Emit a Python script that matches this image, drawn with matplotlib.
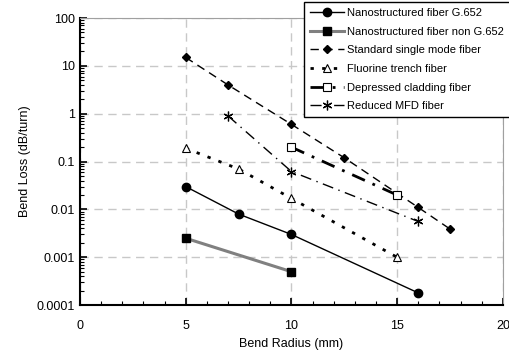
import matplotlib
matplotlib.use("Agg")
import matplotlib.pyplot as plt
from matplotlib.ticker import MultipleLocator, LogLocator, NullFormatter, FixedLocator

plt.rcParams['font.family'] = ['Liberation Sans', 'DejaVu Sans']

# data
g652_x = [5, 7.5, 10, 16]
g652_y = [0.03, 0.008, 0.003, 0.00018]
nong652_x = [5, 10]
nong652_y = [0.0025, 0.0005]
ssmf_x = [5, 7, 10, 12.5, 16, 17.5]
ssmf_y = [15, 4.0, 0.6, 0.12, 0.011, 0.0039]
fluor_x = [5, 7.5, 10, 15]
fluor_y = [0.19, 0.07, 0.017, 0.001]
depr_x = [10, 15]
depr_y = [0.2, 0.02]
mfd_x = [7, 10, 16]
mfd_y = [0.9, 0.062, 0.0056]
ytick_vals = [0.0001, 0.001, 0.01, 0.1, 1, 10, 100]
ytick_labels = ["0.0001", "0.001", "0.01", "0.1", "1", "10", "100"]

fig = plt.figure(figsize=(5.1, 3.54), dpi=100)
ax = fig.add_axes([0.157, 0.138, 0.829, 0.811])

ax.plot(g652_x, g652_y, color='black', lw=1, marker='o', ms=6, label='Nanostructured fiber G.652')
ax.plot(nong652_x, nong652_y, color='#808080', lw=2.2, marker='s', ms=6, mfc='black', mec='black',
        label='Nanostructured fiber non G.652')
ax.plot(ssmf_x, ssmf_y, color='black', lw=1, ls=(0, (6, 4)), marker='D', ms=4.5, label='Standard single mode fiber')
ax.plot(fluor_x, fluor_y, color='black', lw=2, ls=(0, (1.2, 3)), marker='^', ms=5.5, mfc='white', mec='black', mew=0.8,
        label='Fluorine trench fiber')
ax.plot(depr_x, depr_y, color='black', lw=2, ls=(0, (5, 3, 1, 3)), marker='s', ms=5.5, mfc='white', mec='black', mew=0.8,
        label='Depressed cladding fiber')
ax.plot(mfd_x, mfd_y, color='black', lw=1, ls=(0, (8, 4, 1, 4)), marker=(6, 2, 0), ms=7, mew=0.9,
        label='Reduced MFD fiber')

ax.set_yscale('log')
ax.set_xlim(0, 20)
ax.set_ylim(0.0001, 100)
ax.xaxis.set_major_locator(MultipleLocator(5))
ax.xaxis.set_minor_locator(MultipleLocator(1))
ax.yaxis.set_major_locator(FixedLocator(ytick_vals))
ax.set_yticklabels(ytick_labels)
ax.yaxis.set_minor_locator(LogLocator(base=10, subs=range(2, 10), numticks=20))
ax.yaxis.set_minor_formatter(NullFormatter())
ax.tick_params(which='both', direction='in', labelsize=9, colors='black')
ax.tick_params(which='major', length=5, width=1.2)
ax.tick_params(which='minor', length=3, width=0.8)
ax.tick_params(axis='x', pad=11)
ax.grid(True, which='major', color='#c8c8c8', ls=(0, (6, 4)), lw=1)

for s in ['top', 'right']:
    ax.spines[s].set_color('#a0a0a0')
for s in ['left', 'bottom']:
    ax.spines[s].set_linewidth(1.5)

ax.set_xlabel('Bend Radius (mm)', fontsize=9, labelpad=4)
ax.set_ylabel('Bend Loss (dB/turn)', fontsize=9, labelpad=4)

leg = fig.legend(loc='upper right', bbox_to_anchor=(1.0, 0.995), fontsize=8, frameon=True, fancybox=False,
                 edgecolor='black', framealpha=1, handlelength=3.0, labelspacing=0.78, borderpad=0.55,
                 handletextpad=0.3, borderaxespad=0)
leg.get_frame().set_linewidth(1)

fig.savefig('out.png', dpi=100)
